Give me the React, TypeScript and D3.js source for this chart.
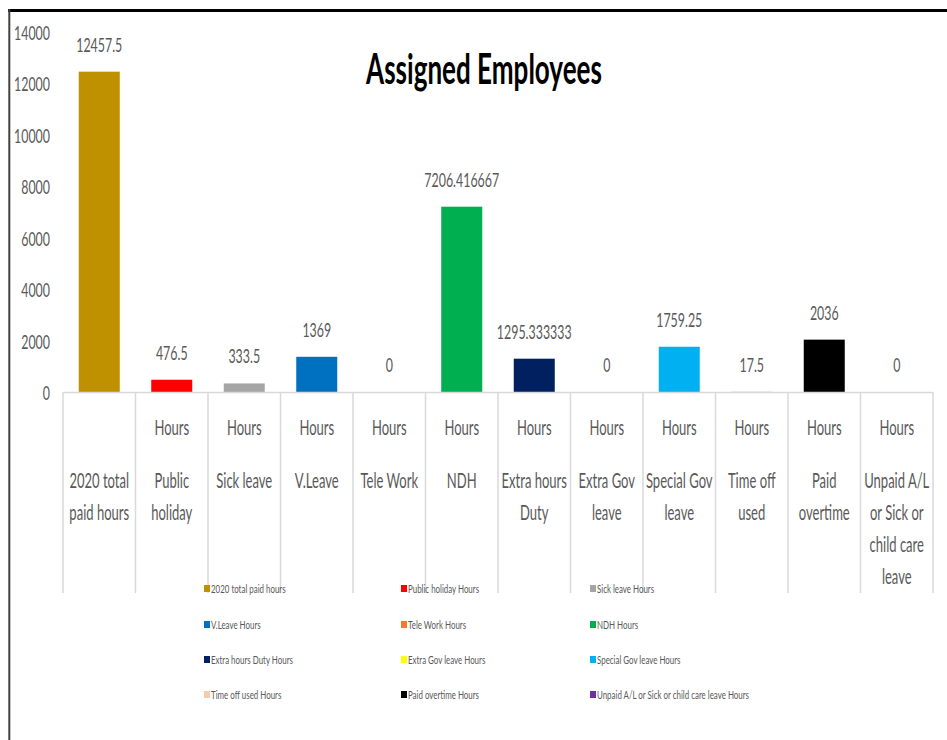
import React from "react";
import * as d3 from "d3";

const categories = [
  "2020 total paid hours",
  "Public holiday",
  "Sick leave",
  "V.Leave",
  "Tele Work",
  "NDH",
  "Extra hours Duty",
  "Extra Gov leave",
  "Special Gov leave",
  "Time off used",
  "Paid overtime",
  "Unpaid A/L or Sick or child care leave",
];
const categoryLines = [
  ["2020 total", "paid hours"],
  ["Public", "holiday"],
  ["Sick leave"],
  ["V.Leave"],
  ["Tele Work"],
  ["NDH"],
  ["Extra hours", "Duty"],
  ["Extra Gov", "leave"],
  ["Special Gov", "leave"],
  ["Time off", "used"],
  ["Paid", "overtime"],
  ["Unpaid A/L", "or Sick or", "child care", "leave"],
];
const topLevel = ["", "Hours", "Hours", "Hours", "Hours", "Hours", "Hours", "Hours", "Hours", "Hours", "Hours", "Hours"];
const values = [12457.5, 476.5, 333.5, 1369, 0, 7206.416667, 1295.333333, 0, 1759.25, 17.5, 2036, 0];
const valueLabels = ["12457.5", "476.5", "333.5", "1369", "0", "7206.416667", "1295.333333", "0", "1759.25", "17.5", "2036", "0"];
const colors = ["#BF9000", "#FF0000", "#A5A5A5", "#0070C0", "#ED7D31", "#00B050", "#002060", "#FFFF00", "#00B0F0", "#F8CBAD", "#000000", "#7030A0"];
const legendNames = [
  "2020 total paid hours",
  "Public holiday Hours",
  "Sick leave Hours",
  "V.Leave Hours",
  "Tele Work Hours",
  "NDH Hours",
  "Extra hours Duty Hours",
  "Extra Gov leave Hours",
  "Special Gov leave Hours",
  "Time off used Hours",
  "Paid overtime Hours",
  "Unpaid A/L or Sick or child care leave Hours",
];
const yTicks = [0, 2000, 4000, 6000, 8000, 10000, 12000, 14000];

const FONT = "Lato, 'Open Sans', sans-serif";
const TXT = "#595959";

function SText(props: { x: number; y: number; sx?: number; size: number; anchor?: string; fill?: string; weight?: string | number; children: React.ReactNode }) {
  const { x, y, sx = 0.62, size, anchor = "middle", fill = TXT, weight = "normal", children } = props;
  return (
    <text
      transform={`translate(${x},${y}) scale(${sx},1)`}
      fontSize={size}
      fontFamily={FONT}
      textAnchor={anchor}
      fill={fill}
      fontWeight={weight}
    >
      {children}
    </text>
  );
}

export default function App() {
  const W = 947, H = 740;
  const x0 = 63, x1 = 933;
  const yBase = 392, yTop = 32;
  const x = d3.scaleBand<string>().domain(categories).range([x0, x1]).paddingInner(0).paddingOuter(0);
  const y = d3.scaleLinear().domain([0, 14000]).range([yBase, yTop]);
  const bw = 41;
  const dividerBottom = 593;

  const legendCols = [204, 401, 590];
  const legendRows = [591, 627, 662, 697];

  return (
    <svg width={W} height={H} style={{ position: "absolute", left: 0, top: 0, background: "#fff" }}>
      <rect x={0} y={0} width={W} height={H} fill="#fff" />
      {/* frame */}
      <line x1={8} x2={W} y1={10.5} y2={10.5} stroke="#000" strokeWidth={3} />
      <line x1={9.3} x2={9.3} y1={9} y2={H} stroke="#404040" strokeWidth={2} />

      {/* title */}
      <SText x={484} y={84} size={42} sx={0.62} fill="#000" weight="bold">Assigned Employees</SText>

      {/* y ticks */}
      {yTicks.map((t) => (
        <SText key={t} x={50} y={y(t) + 8} size={20} anchor="end">{String(t)}</SText>
      ))}

      {/* bars */}
      {categories.map((c, i) => {
        const cx = (x(c) as number) + x.bandwidth() / 2;
        return (
          <g key={c}>
            {values[i] > 0 && (
              <rect x={cx - bw / 2} y={y(values[i])} width={bw} height={yBase - y(values[i])} fill={colors[i]} />
            )}
            <SText x={cx} y={y(values[i]) - 20} size={20}>{valueLabels[i]}</SText>
          </g>
        );
      })}

      {/* category axis */}
      <line x1={x0} x2={x1} y1={yBase + 0.5} y2={yBase + 0.5} stroke="#D9D9D9" strokeWidth={1.5} />
      {d3.range(categories.length + 1).map((k) => {
        const xx = x0 + k * x.bandwidth();
        return <line key={k} x1={xx} x2={xx} y1={yBase} y2={dividerBottom} stroke="#D9D9D9" strokeWidth={1.5} />;
      })}
      {categories.map((c, i) => {
        const cx = (x(c) as number) + x.bandwidth() / 2;
        return (
          <g key={"l" + c}>
            {topLevel[i] && <SText x={cx} y={435} size={21}>{topLevel[i]}</SText>}
            {categoryLines[i].map((ln, j) => (
              <SText key={j} x={cx} y={488 + j * 32} size={21}>{ln}</SText>
            ))}
          </g>
        );
      })}

      {/* legend */}
      {legendNames.map((n, i) => {
        const lx = legendCols[i % 3];
        const ly = legendRows[Math.floor(i / 3)];
        return (
          <g key={n}>
            <rect x={lx} y={ly - 6} width={6} height={7} fill={colors[i]} />
            <SText x={lx + 7} y={ly + 1.5} size={12} sx={0.66} anchor="start">{n}</SText>
          </g>
        );
      })}
    </svg>
  );
}
